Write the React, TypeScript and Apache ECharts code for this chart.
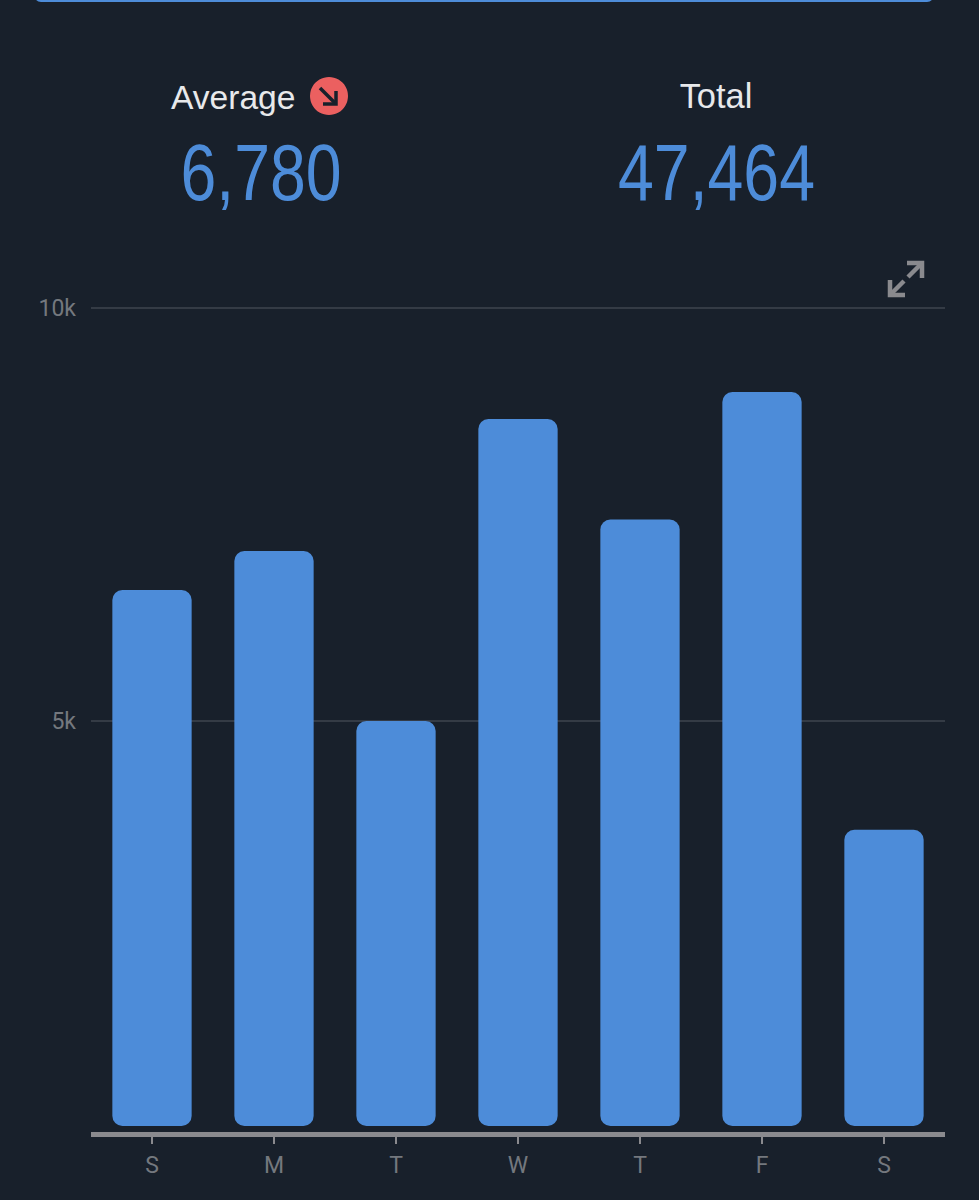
import React, { useEffect, useRef } from "react";
import * as echarts from "echarts";

const days = ["S", "M", "T", "W", "T", "F", "S"];
const steps = [6585, 7058, 5000, 8655, 7440, 8982, 3684];
const averageLabel = "Average";
const averageValue = "6,780";
const totalLabel = "Total";
const totalValue = "47,464";

const BG = "#18202B";
const BLUE = "#4D8CD9";
const GREY = "#8A8A8E";
const AXIS_FONT = "Roboto, sans-serif";
const SANS = "'Liberation Sans', sans-serif";

export default function App() {
  const ref = useRef<HTMLDivElement>(null);
  useEffect(() => {
    document.body.style.margin = "0";
    document.body.style.background = BG;
    const chart = echarts.init(ref.current!, undefined, { renderer: "svg" });
    const arrowStroke = { stroke: GREY, lineWidth: 4.5, fill: "none", lineJoin: "miter" as const };
    chart.setOption({
      animation: false,
      backgroundColor: BG,
      grid: { left: 91, right: 34, top: 308, bottom: 66 },
      xAxis: {
        type: "category",
        data: days,
        axisLine: { show: true, lineStyle: { color: GREY, width: 5, cap: "butt" } },
        axisTick: { show: true, alignWithLabel: true, length: 10, lineStyle: { color: GREY, width: 2 } },
        axisLabel: { color: "#74787E", fontFamily: AXIS_FONT, fontSize: 23, margin: 20, interval: 0 },
        splitLine: { show: false },
      },
      yAxis: {
        type: "value",
        min: 0,
        max: 10000,
        interval: 5000,
        axisLine: { show: false },
        axisTick: { show: false },
        axisLabel: {
          color: "#74787E",
          fontFamily: AXIS_FONT,
          fontSize: 23,
          margin: 15,
          formatter: (v: number) => (v === 0 ? "" : `${v / 1000}k`),
        },
        splitLine: { show: true, lineStyle: { color: "#343B45", width: 2 } },
      },
      series: [
        {
          type: "custom",
          data: steps,
          encode: { x: 0, y: 1 },
          renderItem: (params: any, api: any) => {
            const idx = api.value(0);
            const top = api.coord([idx, api.value(1)]);
            const base = api.coord([idx, 0]);
            const width = api.size([1, 0])[0] * 0.65;
            return {
              type: "rect",
              shape: {
                x: top[0] - width / 2,
                y: top[1],
                width,
                height: base[1] - 8 - top[1],
                r: 10,
              },
              style: { fill: BLUE },
            };
          },
        },
      ],
      graphic: [
        { type: "rect", shape: { x: 34, y: -12, width: 900, height: 14, r: 8 }, style: { fill: BLUE } },
        { type: "text", x: 171, y: 97, style: { text: averageLabel, fill: "#E8E9EB", font: `33.6px ${SANS}`, textVerticalAlign: "middle" } },
        { type: "circle", shape: { cx: 329, cy: 96, r: 19 }, style: { fill: "#EB6060" } },
        { type: "line", shape: { x1: 320, y1: 88, x2: 335, y2: 103 }, style: { stroke: BG, lineWidth: 3.5 } },
        { type: "polyline", shape: { points: [[323, 104], [336, 104], [336, 91]] }, style: { stroke: BG, lineWidth: 3.5, fill: "none" } },
        { type: "text", x: 261, y: 172, scaleX: 0.805, originX: 0, originY: 0, style: { text: averageValue, fill: BLUE, font: `80px ${SANS}`, textAlign: "center", textVerticalAlign: "middle" } },
        { type: "text", x: 716, y: 96, style: { text: totalLabel, fill: "#E8E9EB", font: `34.4px ${SANS}`, textAlign: "center", textVerticalAlign: "middle" } },
        { type: "text", x: 716.5, y: 172, scaleX: 0.805, originX: 0, originY: 0, style: { text: totalValue, fill: BLUE, font: `80px ${SANS}`, textAlign: "center", textVerticalAlign: "middle" } },
        { type: "polyline", shape: { points: [[907, 263], [922, 263], [922, 278]] }, style: arrowStroke },
        { type: "line", shape: { x1: 921, y1: 264, x2: 908, y2: 277 }, style: { stroke: GREY, lineWidth: 4.5 } },
        { type: "polyline", shape: { points: [[890, 280], [890, 295], [905, 295]] }, style: arrowStroke },
        { type: "line", shape: { x1: 891, y1: 294, x2: 904, y2: 281 }, style: { stroke: GREY, lineWidth: 4.5 } },
      ],
    });
    return () => chart.dispose();
  }, []);
  return <div ref={ref} style={{ width: 979, height: 1200 }} />;
}
